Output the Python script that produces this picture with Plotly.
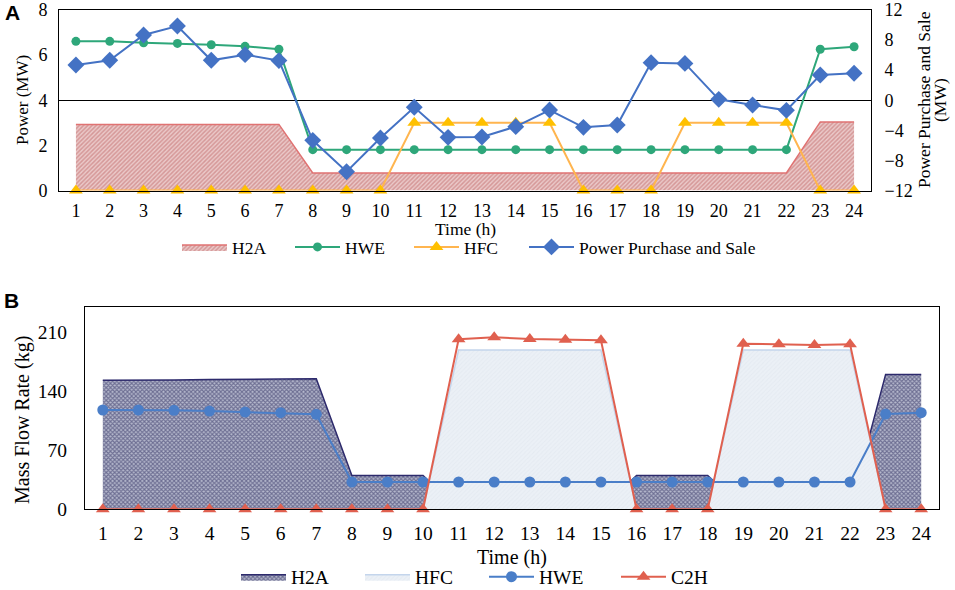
import plotly.graph_objects as go

# hours on the x axis
hours = list(range(1, 25))
hour_labels = [str(h) for h in hours]

# panel A: power (MW)
a_h2a = [2.93, 2.93, 2.93, 2.93, 2.93, 2.93, 2.93, 0.78, 0.78, 0.78, 0.78, 0.78,
         0.78, 0.78, 0.78, 0.78, 0.78, 0.78, 0.78, 0.78, 0.78, 0.78, 3.04, 3.04]
a_hwe = [6.61, 6.61, 6.55, 6.52, 6.46, 6.39, 6.26, 1.81, 1.81, 1.81, 1.81, 1.81,
         1.81, 1.81, 1.81, 1.81, 1.81, 1.81, 1.81, 1.81, 1.81, 1.81, 6.26, 6.37]
a_hfc = [0, 0, 0, 0, 0, 0, 0, 0, 0, 0, 3, 3,
         3, 3, 3, 0, 0, 0, 3, 3, 3, 3, 0, 0]
a_grid = [4.69, 5.31, 8.68, 9.87, 5.31, 6.06, 5.27, -5.33, -9.50, -5.02, -0.94, -4.93,
          -4.89, -3.51, -1.30, -3.60, -3.29, 5.00, 4.90, 0.12, -0.63, -1.34, 3.36, 3.59]

# panel B: mass flow rate (kg)
b_h2a = [153, 153, 153.5, 154, 154, 154.5, 155, 40, 40, 40, 0, 0,
         0, 0, 0, 40, 40, 40, 0, 0, 0, 0, 160, 160]
b_hfc = [0, 0, 0, 0, 0, 0, 0, 0, 0, 0, 189, 189,
         189, 189, 189, 0, 0, 0, 189, 189, 189, 189, 0, 0]
b_hwe = [117.8, 117.8, 117.4, 116.6, 115.4, 114.6, 112.7, 32.4, 32.4, 32.4, 32.4, 32.4,
         32.4, 32.4, 32.4, 32.4, 32.4, 32.4, 32.4, 32.4, 32.4, 32.4, 113.0, 114.6]
b_c2h = [0, 0, 0, 0, 0, 0, 0, 0, 0, 0, 201.7, 204.0,
         202.0, 201.2, 200.5, 0, 0, 0, 196.4, 195.7, 194.9, 195.7, 0, 0]

W, H = 955, 590
SERIF = "Liberation Serif, Times New Roman, serif"
BLACK = "#000000"


def px(x):
    # pixel x -> paper fraction
    return x / W


def py(y):
    return 1 - y / H


def serif(size):
    return dict(family=SERIF, size=size, color=BLACK)


fig = go.Figure()

# ---- panel A ----
fig.add_trace(go.Scatter(
    x=hours, y=a_h2a, name="H2A", mode="lines", fill="tozeroy",
    line=dict(color="#e07272", width=1.5),
    fillpattern=dict(shape="/", fgcolor="#bf6666", bgcolor="#ebc9c9", size=3, solidity=0.5),
    xaxis="x", yaxis="y", legend="legend"))
fig.add_trace(go.Scatter(
    x=hours, y=a_hwe, name="HWE", mode="lines+markers", cliponaxis=False,
    line=dict(color="#2ea77a", width=2), marker=dict(symbol="circle", size=9, color="#2ea77a"),
    xaxis="x", yaxis="y", legend="legend2"))
fig.add_trace(go.Scatter(
    x=hours, y=a_hfc, name="HFC", mode="lines+markers", cliponaxis=False,
    line=dict(color="#ffb54f", width=2), marker=dict(symbol="triangle-up", size=12, color="#ffc000"),
    xaxis="x", yaxis="y", legend="legend3"))
fig.add_trace(go.Scatter(
    x=hours, y=a_grid, name="Power Purchase and Sale", mode="lines+markers", cliponaxis=False,
    line=dict(color="#4472c4", width=2), marker=dict(symbol="diamond", size=13, color="#4472c4"),
    xaxis="x", yaxis="y2", legend="legend4"))

# ---- panel B ----
fig.add_trace(go.Scatter(
    x=hours, y=b_h2a, name="H2A", mode="lines", fill="tozeroy",
    line=dict(color="#2d2a6c", width=1.5),
    fillpattern=dict(shape="x", fgcolor="#26255a", bgcolor="#b6b9cd", size=3, solidity=0.6),
    xaxis="x2", yaxis="y3", legend="legend5"))
fig.add_trace(go.Scatter(
    x=hours, y=b_hfc, name="HFC", mode="lines", fill="tozeroy",
    line=dict(color="#c4d5ec", width=1.5),
    fillpattern=dict(shape="/", fgcolor="#dde4ed", bgcolor="#ebf0f6", size=3, solidity=0.3),
    xaxis="x2", yaxis="y3", legend="legend6"))
fig.add_trace(go.Scatter(
    x=hours, y=b_hwe, name="HWE", mode="lines+markers", cliponaxis=False,
    line=dict(color="#4a7ec8", width=2), marker=dict(symbol="circle", size=11, color="#4a7ec8"),
    xaxis="x2", yaxis="y3", legend="legend7"))
fig.add_trace(go.Scatter(
    x=hours, y=b_c2h, name="C2H", mode="lines+markers", cliponaxis=False,
    line=dict(color="#e0604f", width=2), marker=dict(symbol="triangle-up", size=12, color="#e0604f"),
    xaxis="x2", yaxis="y3", legend="legend8"))

axis_common = dict(showgrid=False, showline=True, linecolor=BLACK, linewidth=1,
                   ticks="", automargin=False, zeroline=False, ticklabeloverflow="allow")


def legend_at(x, y, size):
    # one legend box per entry, placed at the reference's swatch position
    return dict(orientation="h", x=px(x - 6), y=py(y), xanchor="left", yanchor="middle",
                bgcolor="rgba(0,0,0,0)", itemwidth=45, font=serif(size),
                itemclick=False, itemdoubleclick=False)


fig.update_layout(
    width=W, height=H, margin=dict(l=0, r=0, t=0, b=0, autoexpand=False),
    plot_bgcolor="white", paper_bgcolor="white",
    font=serif(17), showlegend=True,
    xaxis=dict(axis_common, domain=[px(59), px(871)], range=[0.5, 24.5],
               tickvals=hours, ticktext=hour_labels, anchor="y", mirror=True,
               tickfont=serif(18), ticklabelstandoff=4),
    yaxis=dict(axis_common, domain=[py(190.5), py(10)], range=[0, 8], dtick=2,
               anchor="x", tickfont=serif(18), ticklabelstandoff=7),
    yaxis2=dict(axis_common, overlaying="y", side="right", range=[-12, 12], dtick=4,
                anchor="x", zeroline=True, zerolinecolor=BLACK, zerolinewidth=1,
                tickfont=serif(18), ticklabelstandoff=9),
    xaxis2=dict(axis_common, domain=[px(85), px(939)], range=[0.5, 24.5],
                tickvals=hours, ticktext=hour_labels, anchor="y3", mirror=True,
                tickfont=serif(19.5), ticklabelstandoff=6),
    yaxis3=dict(axis_common, domain=[py(509.3), py(307)], range=[0, 240],
                tickvals=[0, 70, 140, 210], anchor="x2", mirror=True,
                tickfont=serif(19.5), ticklabelstandoff=13),
    legend=legend_at(183, 247, 17.5),
    legend2=legend_at(296, 247, 17.5),
    legend3=legend_at(415, 247, 17.5),
    legend4=legend_at(530, 247, 17.5),
    legend5=legend_at(242, 577, 19.5),
    legend6=legend_at(366, 577, 19.5),
    legend7=legend_at(490, 577, 19.5),
    legend8=legend_at(622, 577, 19.5),
)

annotations = [
    dict(text="<b>A</b>", x=px(12), y=py(13),
         font=dict(family="Liberation Sans", size=21, color=BLACK)),
    dict(text="<b>B</b>", x=px(11), y=py(300),
         font=dict(family="Liberation Sans", size=21, color=BLACK)),
    dict(text="Time (h)", x=px(465), y=py(229), font=serif(17.5)),
    dict(text="Time (h)", x=px(512), y=py(557), font=serif(20)),
    dict(text="Power (MW)", x=px(22), y=py(100), textangle=-90, font=serif(17)),
    dict(text="Mass Flow Rate (kg)", x=px(22), y=py(420), textangle=-90, font=serif(20)),
    dict(text="Power Purchase and Sale", x=px(924), y=py(100), textangle=-90,
         font=serif(17.5)),
    dict(text="(MW)", x=px(940), y=py(100), textangle=-90, font=serif(17.5)),
]
for a in annotations:
    a.update(xref="paper", yref="paper", xanchor="center", yanchor="middle",
             showarrow=False)
fig.update_layout(annotations=annotations)

# drop the browser's default body margin so the figure fills the window exactly
fig.write_html("out.html", config={"displayModeBar": False},
               post_script="document.body.style.margin='0';"
                           "document.documentElement.style.overflow='hidden';")
